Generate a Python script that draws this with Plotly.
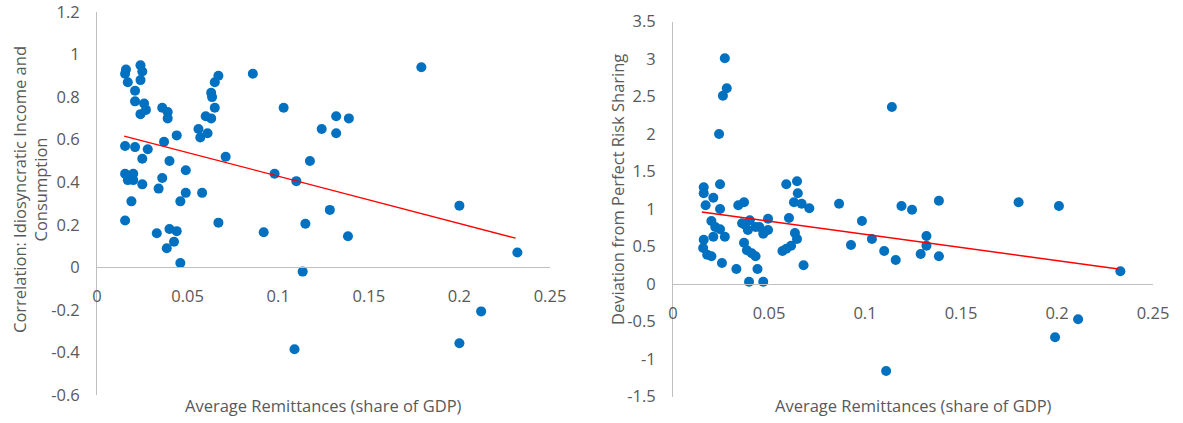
import plotly.graph_objects as go

# ---------------- data ----------------
left_x = [0.016, 0.0155, 0.017, 0.024, 0.025, 0.024, 0.021, 0.021, 0.026, 0.027,
          0.024, 0.036, 0.039, 0.039, 0.044, 0.037, 0.0155, 0.021, 0.028, 0.056,
          0.057, 0.061, 0.060, 0.063, 0.065, 0.063, 0.0635, 0.065, 0.067, 0.086,
          0.103, 0.179, 0.132, 0.139, 0.124, 0.132, 0.1175, 0.110, 0.1285, 0.115,
          0.1385, 0.1135, 0.200, 0.232, 0.025, 0.040, 0.071, 0.049, 0.0155, 0.018,
          0.020, 0.020, 0.017, 0.025, 0.036, 0.098, 0.034, 0.049, 0.058, 0.019,
          0.046, 0.0155, 0.067, 0.092, 0.033, 0.040, 0.044, 0.0425, 0.0385, 0.046,
          0.212, 0.200, 0.109]
left_y = [0.93, 0.91, 0.87, 0.95, 0.92, 0.88, 0.83, 0.78, 0.77, 0.74,
          0.72, 0.75, 0.73, 0.70, 0.62, 0.59, 0.57, 0.565, 0.555, 0.65,
          0.61, 0.63, 0.71, 0.70, 0.75, 0.82, 0.80, 0.87, 0.90, 0.91,
          0.75, 0.94, 0.71, 0.70, 0.65, 0.63, 0.50, 0.405, 0.27, 0.205,
          0.146, -0.02, 0.29, 0.07, 0.51, 0.50, 0.52, 0.456, 0.44, 0.42,
          0.44, 0.41, 0.41, 0.39, 0.42, 0.44, 0.37, 0.35, 0.35, 0.31,
          0.31, 0.22, 0.21, 0.165, 0.16, 0.18, 0.17, 0.12, 0.09, 0.02,
          -0.207, -0.357, -0.385]
left_trend_x = [0.015, 0.231]
left_trend_y = [0.617, 0.137]

right_x = [0.027, 0.028, 0.026, 0.024, 0.114, 0.119, 0.1245, 0.1385, 0.180, 0.201,
           0.132, 0.132, 0.110, 0.116, 0.129, 0.1385, 0.233, 0.016, 0.016, 0.017,
           0.0245, 0.021, 0.0245, 0.034, 0.037, 0.020, 0.022, 0.0245, 0.027, 0.021,
           0.016, 0.0157, 0.0178, 0.020, 0.0255, 0.033, 0.0396, 0.047, 0.044, 0.036,
           0.0375, 0.040, 0.039, 0.043, 0.045, 0.0495, 0.0495, 0.047, 0.037, 0.0385,
           0.041, 0.043, 0.059, 0.0646, 0.065, 0.063, 0.067, 0.071, 0.0604, 0.0635,
           0.0646, 0.057, 0.059, 0.0615, 0.068, 0.0865, 0.0984, 0.1036, 0.0927, 0.111,
           0.199, 0.211]
right_y = [3.01, 2.61, 2.51, 2.00, 2.36, 1.04, 0.99, 1.11, 1.09, 1.04,
           0.64, 0.51, 0.44, 0.32, 0.40, 0.37, 0.17, 1.29, 1.21, 1.05,
           1.33, 1.15, 1.00, 1.05, 1.09, 0.84, 0.76, 0.73, 0.63, 0.63,
           0.59, 0.48, 0.39, 0.37, 0.28, 0.20, 0.03, 0.03, 0.20, 0.81,
           0.79, 0.85, 0.72, 0.76, 0.76, 0.87, 0.72, 0.67, 0.55, 0.45,
           0.41, 0.37, 1.33, 1.37, 1.21, 1.09, 1.07, 1.01, 0.88, 0.68,
           0.60, 0.44, 0.47, 0.51, 0.25, 1.07, 0.84, 0.60, 0.52, -1.16,
           -0.71, -0.47]
right_trend_x = [0.015, 0.232]
right_trend_y = [0.96, 0.20]

x_tickvals = [0, 0.05, 0.1, 0.15, 0.2, 0.25]
x_ticktext = ["0", "0.05", "0.1", "0.15", "0.2", "0.25"]
left_y_tickvals = [-0.6, -0.4, -0.2, 0, 0.2, 0.4, 0.6, 0.8, 1.0, 1.2]
left_y_ticktext = ["-0.6", "-0.4", "-0.2", "0", "0.2", "0.4", "0.6", "0.8", "1", "1.2"]
right_y_tickvals = [-1.5, -1, -0.5, 0, 0.5, 1, 1.5, 2, 2.5, 3, 3.5]
right_y_ticktext = ["-1.5", "-1", "-0.5", "0", "0.5", "1", "1.5", "2", "2.5", "3", "3.5"]

x_title = "Average Remittances (share of GDP)"
left_y_title = "Correlation: Idiosyncratic Income and<br>Consumption"
right_y_title = "Deviation from Perfect Risk Sharing"

# ---------------- layout geometry ----------------
W, H = 1183, 423
FONT = "Open Sans"
FS = 16.5
GREY = "#595959"
AXIS = "#BFBFBF"
BLUE = "#0070C0"


def fx(px):
    return px / W


def fy(py):
    return 1 - py / H


left_xdom = [fx(97), fx(550)]
left_ydom = [fy(395), fy(12)]
left_yrange = [-0.6, 1.2]
right_xdom = [fx(673), fx(1153)]
right_ydom = [fy(396.5), fy(21.5)]
right_yrange = [-1.5, 3.5]


def zero_pos(dom, rng):
    return dom[0] + (0 - rng[0]) / (rng[1] - rng[0]) * (dom[1] - dom[0])


fig = go.Figure()
fig.add_trace(go.Scatter(x=left_x, y=left_y, mode="markers",
                         marker=dict(color=BLUE, size=10), xaxis="x", yaxis="y",
                         showlegend=False, cliponaxis=False))
fig.add_trace(go.Scatter(x=left_trend_x, y=left_trend_y, mode="lines",
                         line=dict(color="#FF0000", width=1.3), xaxis="x", yaxis="y",
                         showlegend=False))
fig.add_trace(go.Scatter(x=right_x, y=right_y, mode="markers",
                         marker=dict(color=BLUE, size=10), xaxis="x2", yaxis="y2",
                         showlegend=False, cliponaxis=False))
fig.add_trace(go.Scatter(x=right_trend_x, y=right_trend_y, mode="lines",
                         line=dict(color="#FF0000", width=1.3), xaxis="x2", yaxis="y2",
                         showlegend=False))

common_x = dict(range=[0, 0.25], tickvals=x_tickvals, ticktext=x_ticktext,
                showgrid=False, zeroline=False, showline=True, linecolor=AXIS,
                linewidth=1, ticks="", anchor="free", ticklabelstandoff=14,
                automargin=False, ticklabeloverflow="allow",
                tickfont=dict(family=FONT, size=FS, color=GREY))
common_y = dict(showgrid=False, zeroline=False, showline=True, linecolor=AXIS,
                linewidth=1, ticks="", ticklabelstandoff=13, automargin=False,
                ticklabeloverflow="allow",
                tickfont=dict(family=FONT, size=FS, color=GREY))

fig.update_layout(
    width=W, height=H,
    margin=dict(l=0, r=0, t=0, b=0, autoexpand=False),
    paper_bgcolor="white", plot_bgcolor="white",
    showlegend=False,
    xaxis=dict(domain=left_xdom, position=zero_pos(left_ydom, left_yrange), **common_x),
    yaxis=dict(domain=left_ydom, range=left_yrange, tickvals=left_y_tickvals,
               ticktext=left_y_ticktext, anchor="x", **common_y),
    xaxis2=dict(domain=right_xdom, position=zero_pos(right_ydom, right_yrange), **common_x),
    yaxis2=dict(domain=right_ydom, range=right_yrange, tickvals=right_y_tickvals,
                ticktext=right_y_ticktext, anchor="x2", **common_y),
    annotations=[
        dict(text=x_title, xref="paper", yref="paper", x=fx((97 + 550) / 2), y=fy(405),
             xanchor="center", yanchor="middle", showarrow=False,
             font=dict(family=FONT, size=FS, color=GREY)),
        dict(text=x_title, xref="paper", yref="paper", x=fx((673 + 1153) / 2), y=fy(405),
             xanchor="center", yanchor="middle", showarrow=False,
             font=dict(family=FONT, size=FS, color=GREY)),
        dict(text=left_y_title, xref="paper", yref="paper", x=fx(30), y=fy(190),
             xanchor="center", yanchor="middle", showarrow=False, textangle=-90,
             font=dict(family=FONT, size=FS, color=GREY)),
        dict(text=right_y_title, xref="paper", yref="paper", x=fx(617), y=fy(190),
             xanchor="center", yanchor="middle", showarrow=False, textangle=-90,
             font=dict(family=FONT, size=FS, color=GREY)),
    ],
)

# remove the default 8px page margin so the figure fills the window exactly
fig.write_html("out.html", config={"displayModeBar": False},
               post_script="document.body.style.margin='0';")
